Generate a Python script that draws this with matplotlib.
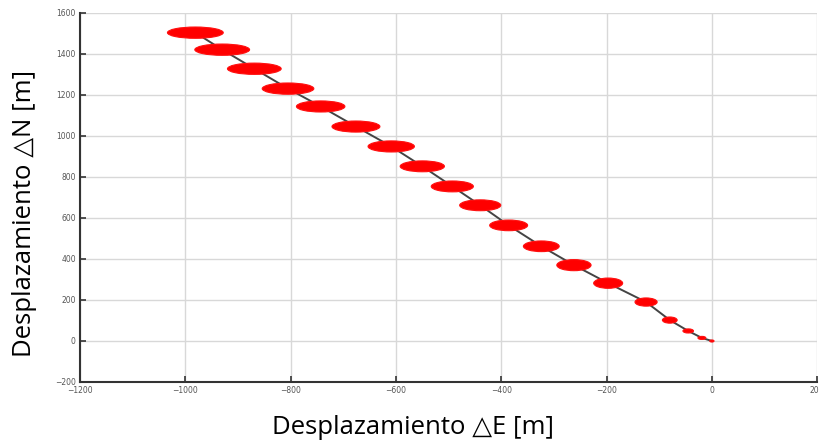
import matplotlib.pyplot as plt
from matplotlib.patches import Ellipse

# trajectory positions (east, north) in metres
east = [-981, -930, -869, -805, -743, -676, -609, -550, -493, -440,
        -386, -324, -262, -197, -125, -80, -45, -19, 0]
north = [1504, 1421, 1328, 1231, 1144, 1046, 949, 852, 754, 662,
         564, 462, 370, 282, 190, 102, 49, 15, 0]
# uncertainty ellipse sizes (full width in E, full height in N), metres
ell_w = [106, 104, 102, 98, 92, 91, 88, 84, 80, 78,
         72, 68, 65, 55, 42, 28, 20, 15, 8]
ell_h = [55, 55, 55, 55, 54, 54, 54, 53, 53, 53,
         52, 52, 54, 50, 40, 30, 20, 15, 10]

x_ticks = [-1200, -1000, -800, -600, -400, -200, 0, 200]
y_ticks = [-200, 0, 200, 400, 600, 800, 1000, 1200, 1400, 1600]

fig = plt.figure(figsize=(8.2, 4.43), dpi=100)
ax = fig.add_axes([0.0976, 0.1377, 0.899, 0.833])

ax.plot(east, north, color="#444444", lw=1.4, zorder=2)
for x, y, w, h in zip(east, north, ell_w, ell_h):
    ax.add_patch(Ellipse((x, y), w, h, facecolor="#ff0000",
                         edgecolor="#ff1010", lw=0.8, zorder=3))

ax.set_xlim(-1200, 200)
ax.set_ylim(-200, 1600)
ax.set_xticks(x_ticks)
ax.set_yticks(y_ticks)
ax.tick_params(direction="in", length=4, width=1.2, color="#333333",
               labelsize=5.5, labelcolor="#555555", pad=3)
ax.grid(True, color="#d8d8d8", lw=1)
ax.set_axisbelow(True)
for side in ("top", "right"):
    ax.spines[side].set_visible(False)
for side in ("left", "bottom"):
    ax.spines[side].set_color("#333333")
    ax.spines[side].set_linewidth(1.5)

label_font = ["Open Sans", "DejaVu Sans"]
ax.set_xlabel("Desplazamiento \u25b3E [m]", fontsize=18.5, family=label_font)
ax.set_ylabel("Desplazamiento \u25b3N [m]", fontsize=18.5, family=label_font)
ax.xaxis.set_label_coords(0.452, -0.09)
ax.yaxis.set_label_coords(-0.058, 0.458)

fig.savefig("out.png", dpi=100)
